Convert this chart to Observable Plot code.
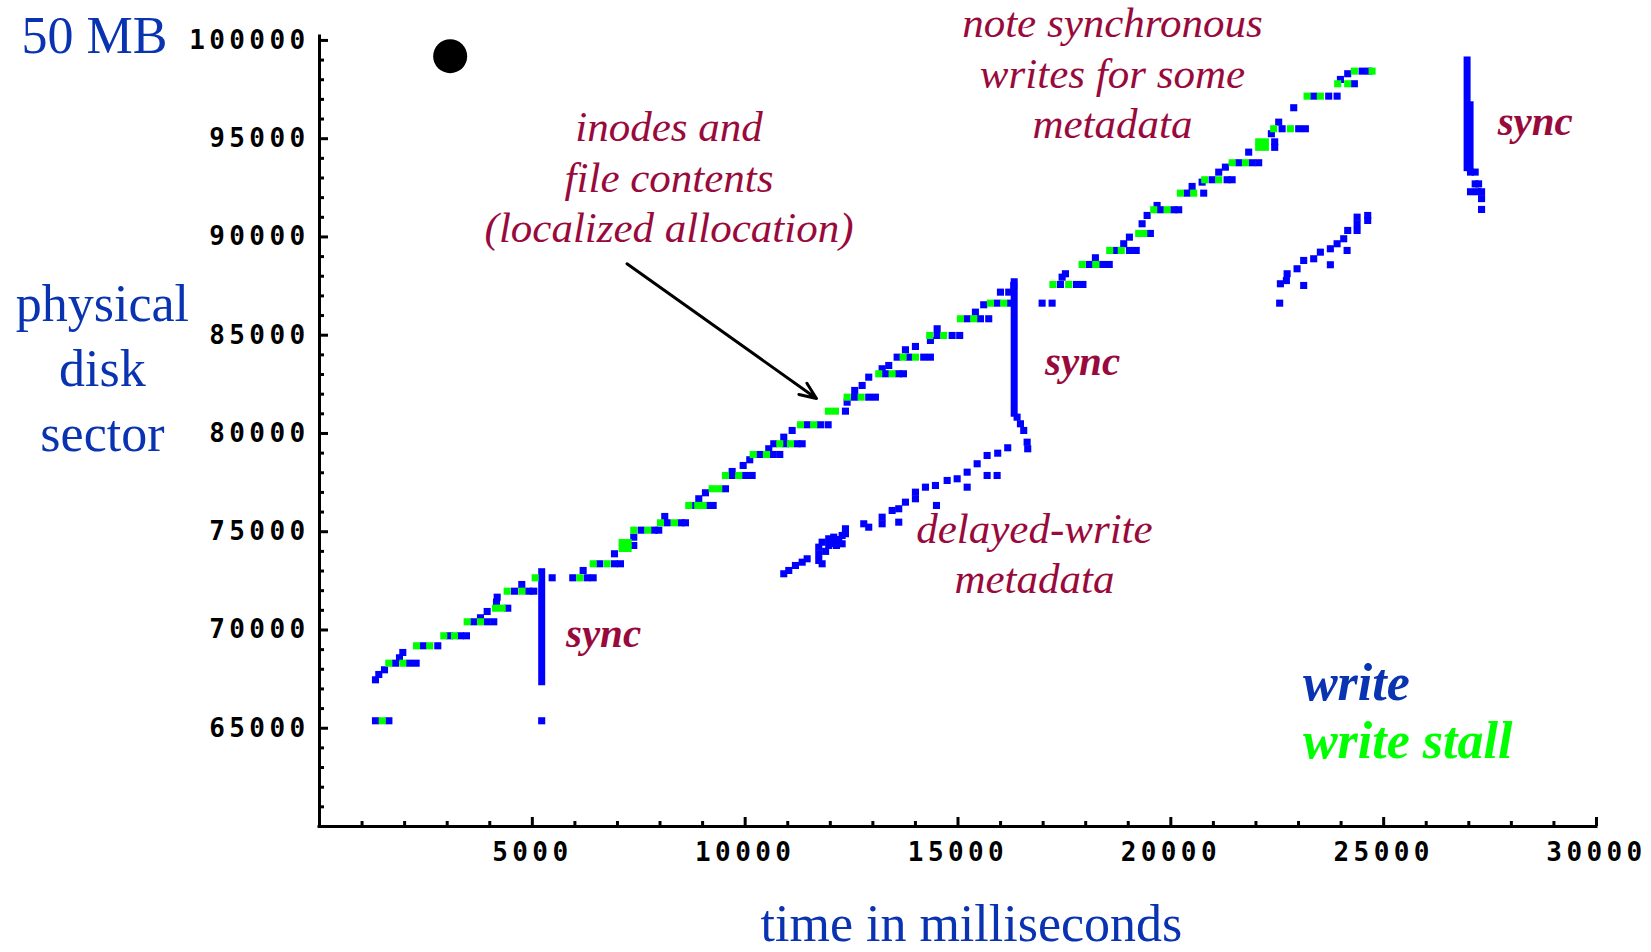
<!DOCTYPE html>
<html><head><meta charset="utf-8">
<script src="https://cdn.jsdelivr.net/npm/d3@7"></script>
<script src="https://cdn.jsdelivr.net/npm/@observablehq/plot@0.6"></script>
<style>
html,body{margin:0;padding:0;background:#fff;}
#chart svg{display:block;}
g[aria-label="x-axis tick label"] text, g[aria-label="y-axis tick label"] text{letter-spacing:4.4px;}
</style></head>
<body><div id="chart"></div>
<script>
// ---- tick values ----
const xLabelTicks = [5000, 10000, 15000, 20000, 25000, 30000];
const xMinorTicks = [1000,2000,3000,4000,6000,7000,8000,9000,11000,12000,13000,14000,16000,17000,18000,19000,21000,22000,23000,24000,26000,27000,28000,29000];
const yLabelTicks = [65000, 70000, 75000, 80000, 85000, 90000, 95000, 100000];
const yMinorTicks = [61000,62000,63000,64000,66000,67000,68000,69000,71000,72000,73000,74000,76000,77000,78000,79000,81000,82000,83000,84000,86000,87000,88000,89000,91000,92000,93000,94000,96000,97000,98000,99000];

// ---- writes along the main (localized) staircase ----
const stairTime = [1315,1630,1315,1393,1527,1785,2114,2271,1879,1957,2436,2779,3054,3312,3453,3625,3939,4094,3782,3939,4423,4158,4174,4581,4916,5034,4752,5220,5466,5950,6288,6429,6194,6584,6930,7070,6930,7383,7383,7557,7869,7970,8168,8497,8597,8111,8777,9121,9248,8910,9067,9537,9694,10007,10164,9694,9953,10108,10343,10657,10813,10554,10672,10947,11221,11339,10907,11104,11456,11768,11949,12356,12395,12567,12903,13060,12574,12748,12903,13295,13600,13718,13218,13373,13570,13843,14195,14352,13765,14000,14352,14510,14862,15040,14510,15215,15527,15722,15409,15604,15919,16232,15997,16192,16309,16388,16467,16544,16624,16638,16976,17211,17406,17782,17935,17446,17524,18083,18397,18553,18228,18710,19027,19187,18893,19027,19520,19325,19443,19755,20068,20185,19677,20382,20772,20500,20735,20970,21322,21440,21125,21282,21595,21909,22064,21829,22440,22440,22362,22614,23004,23161,22534,22887,23356,23709,23906,23984,24312,24155,24493,24648];
const stairSector = [65380,65380,67465,67735,67975,68310,68310,68310,68585,68855,69196,69196,69705,69705,69705,70417,70417,70417,70621,70941,71109,71415,71669,71974,71974,71974,72315,65380,72656,72656,72656,72656,73028,73369,73369,73369,73878,74300,74723,75079,75079,75079,75455,75455,75455,75776,76336,76336,76336,76677,76982,77186,77862,77862,77862,78066,78371,78661,78931,78931,78931,79222,79476,79476,79476,79476,79812,80152,80443,80443,80443,81135,81593,81847,81847,81847,82188,82442,82865,83038,83038,83038,83293,83460,83883,83883,83883,83883,84259,84427,84733,84987,84987,84987,85328,85837,85837,85837,86173,86549,86631,86631,87191,87191,87531,80829,80493,80152,79557,79221,86631,86631,87582,87582,87582,87954,88127,88600,88600,88600,88941,89313,89313,89313,89654,89990,90178,90671,91094,91384,91384,91384,91603,92229,92229,92570,92789,92911,92911,92911,93297,93552,93776,93776,93776,94315,94560,94840,95252,95506,95506,95506,95842,96575,97165,97165,97165,98015,97796,98305,98437,98437];

// ---- delayed-write metadata cluster ----
const delayedTime = [10907,11024,11181,11339,11456,11729,11729,11729,11808,11808,11890,11963,11963,12081,12081,12144,12200,12278,12278,12356,12356,12786,12903,13218,13218,13453,13608,13608,13765,14000,14000,14235,14470,14494,14745,14980,15215,15215,15450,15684,15684,15919,15933,16168];
const delayedSector = [72860,73028,73282,73450,73623,73878,74214,73538,74468,73369,74000,74641,74300,74723,74400,74300,74600,74386,74809,75150,74900,75404,75231,75740,75404,76081,75486,76168,76504,77013,76677,77267,77353,76336,77608,77694,78031,77267,78458,78880,77862,77862,78997,79272];

// ---- late cluster and tail of the last sync ----
const lateTime = [22557,22574,22715,22732,22966,23121,23121,23356,23513,23748,23748,23906,24061,24141,24155,24376,24376,24376,24625,24625,27040,27150,27150,27230,27040,27200,27300,27300,27300];
const lateSector = [86631,87618,87780,88127,88381,87531,88804,88890,89226,89399,88585,89654,89908,89313,90330,91007,90330,90670,91094,90840,93300,93300,92700,92700,92300,92300,92300,91950,91400];

// ---- write stalls ----
const stallTime = [1473,1628,1957,2279,2591,2920,3171,3469,3782,4134,4292,4409,4752,5067,6115,6429,6758,7110,7251,7110,7251,7383,7712,8010,8339,8675,8886,9013,9224,9380,9537,9850,10188,10500,10813,11064,11299,11611,11956,12121,12396,12725,13138,13452,13711,14000,14336,14665,15057,15370,15762,16074,17230,17601,17916,18240,18564,18835,19245,19363,19598,19912,20225,20537,20796,21125,21440,21752,22064,22221,22064,22221,22416,22809,23201,23513,23920,24155,24312,24728];
const stallSector = [65380,68310,68310,69196,69196,69705,69705,70417,70417,71109,71109,71974,71974,72656,72656,73369,73369,74150,74150,74450,74450,75079,75079,75455,75455,76336,76336,76336,77186,77186,77862,77862,78931,78931,79476,79476,80443,80443,81135,81135,81847,81847,83038,83038,83883,83883,84987,84987,85837,85837,86631,86631,87582,87582,88600,88600,89313,89313,90178,90178,91384,91384,92229,92229,92911,92911,93776,93776,94560,94560,94840,94840,95506,95506,97165,97165,97796,97796,98437,98437];

// ---- sync bursts (vertical runs of writes) ----
const syncTime = [5220, 16320, 26960, 27030];
const syncLow  = [67340, 81000, 93500, 93500];
const syncHigh = [72940, 87700, 98980, 96700];

// ---- texts ----
const topLeftLabel = "50 MB";
const yTitle = "physical\ndisk\nsector";
const xTitle = "time in milliseconds";
const inodesNote = "inodes and\nfile contents\n(localized allocation)";
const syncNote = "note synchronous\nwrites for some\nmetadata";
const delayedNote = "delayed-write\nmetadata";
const syncLabel = "sync";
const legendWrite = "write";
const legendStall = "write stall";

const TITLE_BLUE = "#0a33b2";
const MAROON = "#990a3c";
const PT_BLUE = "#0000ff";
const PT_GREEN = "#00ff00";
const serif = '"Liberation Serif", "Times New Roman", serif';
const mono = '"DejaVu Sans Mono", monospace';

const noteStyle = {textAnchor: "middle", lineAnchor: "bottom", lineHeight: 1.175, fontSize: 43, fontFamily: serif, fontStyle: "italic", fill: MAROON};
const syncStyle = {textAnchor: "start", lineAnchor: "bottom", fontSize: 41, fontFamily: serif, fontStyle: "italic", fontWeight: "bold", fill: MAROON};

const chart = Plot.plot({
  width: 1651, height: 952,
  marginTop: 36, marginRight: 55, marginBottom: 126, marginLeft: 319,
  style: {background: "#fff", overflow: "visible"},
  x: {domain: [0, 30000]},
  y: {domain: [60000, 100200]},
  marks: [
    // axis lines
    Plot.ruleY([60000], {stroke: "#000", strokeWidth: 3, strokeLinecap: "square"}),
    Plot.ruleX([0], {stroke: "#000", strokeWidth: 3, strokeLinecap: "square"}),
    // inward ticks
    Plot.ruleX(xMinorTicks, {x: d => d, y1: 60000, y2: 60000, insetTop: -5, stroke: "#000", strokeWidth: 3}),
    Plot.ruleX(xLabelTicks, {x: d => d, y1: 60000, y2: 60000, insetTop: -9, stroke: "#000", strokeWidth: 3}),
    Plot.ruleY(yMinorTicks, {y: d => d, x1: 0, x2: 0, insetRight: -5, stroke: "#000", strokeWidth: 3}),
    Plot.ruleY(yLabelTicks, {y: d => d, x1: 0, x2: 0, insetRight: -9, stroke: "#000", strokeWidth: 3}),
    // tick labels
    Plot.axisX(xLabelTicks, {anchor: "bottom", tickSize: 0, tickPadding: 16, tickFormat: d => String(d), fontSize: 26, fontFamily: mono, fontWeight: "bold", fill: "#000", label: null}),
    Plot.axisY(yLabelTicks, {anchor: "left", tickSize: 0, tickPadding: 10, tickFormat: d => String(d), fontSize: 26, fontFamily: mono, fontWeight: "bold", fill: "#000", label: null}),
    // sync bursts
    Plot.ruleX(syncTime, {x: syncTime, y1: syncLow, y2: syncHigh, stroke: PT_BLUE, strokeWidth: 7, strokeLinecap: "square"}),
    // writes
    Plot.dot(stairTime, {x: stairTime, y: stairSector, symbol: "square", r: 4, fill: PT_BLUE}),
    Plot.dot(delayedTime, {x: delayedTime, y: delayedSector, symbol: "square", r: 4, fill: PT_BLUE}),
    Plot.dot(lateTime, {x: lateTime, y: lateSector, symbol: "square", r: 4, fill: PT_BLUE}),
    // write stalls
    Plot.dot(stallTime, {x: stallTime, y: stallSector, symbol: "square", r: 4, fill: PT_GREEN}),
    // bullet
    Plot.dot([0], {x: 3070, y: 99200, r: 17, fill: "#000"}),
    // arrow
    Plot.arrow([0], {x1: 7223, y1: 88636, x2: 11675, y2: 81781, stroke: "#000", strokeWidth: 3, headLength: 9, headAngle: 45}),
    // titles
    Plot.text([topLeftLabel], {x: -7000, y: 99340, text: d => d, textAnchor: "start", lineAnchor: "bottom", fontSize: 52, fontFamily: serif, fill: TITLE_BLUE}),
    Plot.text([yTitle], {x: -5100, y: 79084, text: d => d, textAnchor: "middle", lineAnchor: "bottom", lineHeight: 1.25, fontSize: 52, fontFamily: serif, fill: TITLE_BLUE}),
    Plot.text([xTitle], {x: 15315, y: 54150, text: d => d, textAnchor: "middle", lineAnchor: "bottom", fontSize: 52, fontFamily: serif, fill: TITLE_BLUE}),
    // annotations
    Plot.text([inodesNote], {x: 8212, y: 89720, text: d => d, ...noteStyle}),
    Plot.text([syncNote], {x: 18628, y: 95012, text: d => d, ...noteStyle}),
    Plot.text([delayedNote], {x: 16795, y: 71857, text: d => d, ...noteStyle}),
    Plot.text([syncLabel], {x: 5790, y: 69135, text: d => d, ...syncStyle}),
    Plot.text([syncLabel], {x: 17042, y: 82951, text: d => d, ...syncStyle}),
    Plot.text([syncLabel], {x: 27678, y: 95175, text: d => d, ...syncStyle}),
    // legend
    Plot.text([legendWrite], {x: 23102, y: 66412, text: d => d, textAnchor: "start", lineAnchor: "bottom", fontSize: 52, fontFamily: serif, fontStyle: "italic", fontWeight: "bold", fill: TITLE_BLUE}),
    Plot.text([legendStall], {x: 23102, y: 63511, text: d => d, textAnchor: "start", lineAnchor: "bottom", fontSize: 52, fontFamily: serif, fontStyle: "italic", fontWeight: "bold", fill: PT_GREEN})
  ]
});
document.getElementById("chart").appendChild(chart);
</script>
</body></html>
